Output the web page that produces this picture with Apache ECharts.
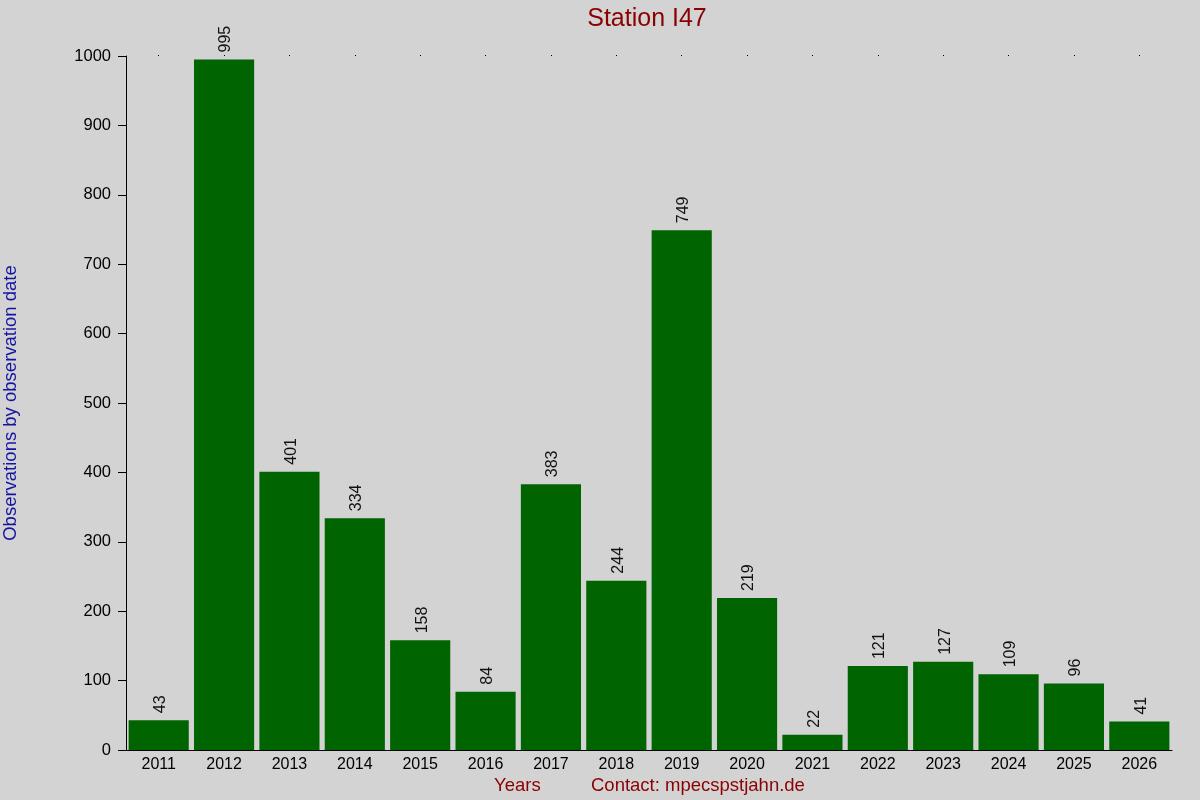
<!DOCTYPE html>
<html>
<head>
<meta charset="utf-8">
<script src="https://cdn.jsdelivr.net/npm/echarts@6/dist/echarts.min.js"></script>
<style>
html, body { margin:0; padding:0; background:#d3d3d3; }
#main { width:1200px; height:800px; }
</style>
</head>
<body>
<div id="main"></div>
<script>
var years = ['2011','2012','2013','2014','2015','2016','2017','2018','2019','2020','2021','2022','2023','2024','2025','2026'];
var counts = [43, 995, 401, 334, 158, 84, 383, 244, 749, 219, 22, 121, 127, 109, 96, 41];

var chart = echarts.init(document.getElementById('main'));

var option = {
	backgroundColor: '#d3d3d3',
	textStyle: { fontFamily: 'Liberation Sans, Arial, sans-serif' },
	title: {
		text: 'Station I47',
		left: 642,
		textAlign: 'center',
		top: 2,
		textStyle: { color: '#8b0000', fontSize: 25, fontWeight: 'normal' }
	},
	grid: { left: 126, right: 28, top: 56, bottom: 50, outerBoundsMode: 'none', containLabel: false },
	xAxis: [{
		type: 'category',
		data: years,
		axisLine: { lineStyle: { color: '#000', width: 1 } },
		axisTick: { show: false },
		axisLabel: { color: '#000', fontSize: 16, margin: 7 }
	}, {
		// dots along the top edge
		type: 'category',
		position: 'top',
		data: years,
		axisLine: { show: false },
		axisTick: { show: true, alignWithLabel: true, length: 1, lineStyle: { color: '#000' } },
		axisLabel: { show: false }
	}],
	yAxis: {
		type: 'value',
		min: 0,
		max: 1000,
		interval: 100,
		name: 'Observations by observation date',
		nameLocation: 'middle',
		nameGap: 106,
		nameTextStyle: { color: '#1414a0', fontSize: 18.5 },
		axisLine: { show: true, lineStyle: { color: '#000', width: 1 } },
		axisTick: { show: true, length: 8, lineStyle: { color: '#000' } },
		axisLabel: { color: '#000', fontSize: 16.5, margin: 15, formatter: function (v) { return String(v); } },
		splitLine: { show: false }
	},
	series: [{
		type: 'bar',
		data: counts,
		barCategoryGap: '8%',
		itemStyle: { color: '#006400' },
		label: {
			show: true,
			position: 'top',
			rotate: 90,
			align: 'left',
			verticalAlign: 'middle',
			distance: 5,
			offset: [2, 2],
			color: '#111',
			fontSize: 16
		}
	}],
	graphic: [{
		type: 'text',
		left: 494,
		top: 776,
		style: { text: 'Years', fill: '#8b0000', font: '18.5px Liberation Sans, Arial, sans-serif' }
	}, {
		type: 'text',
		left: 591,
		top: 776,
		style: { text: 'Contact: mpecspstjahn.de', fill: '#8b0000', font: '18.5px Liberation Sans, Arial, sans-serif' }
	}]
};

chart.setOption(option);
</script>
</body>
</html>
